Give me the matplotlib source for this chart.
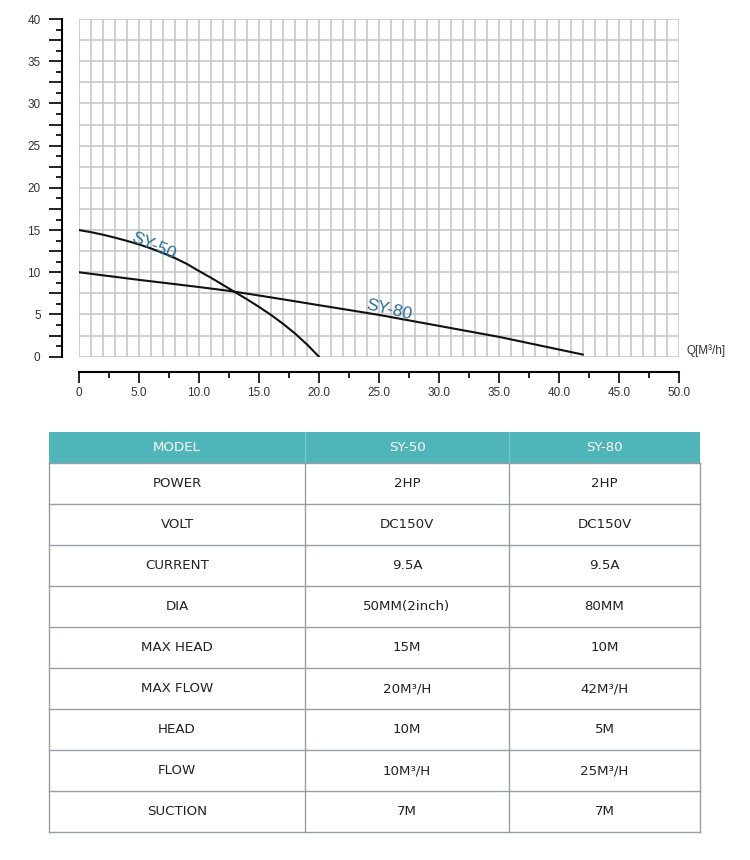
import numpy as np
import matplotlib
matplotlib.use("Agg")
import matplotlib.pyplot as plt
from matplotlib.ticker import MultipleLocator, FuncFormatter
from matplotlib.patches import Rectangle

plt.rcParams["font.family"] = ["Liberation Sans", "DejaVu Sans"]

# ---------------- data ----------------
sy50_q = [0, 1, 2, 3, 4, 5, 6, 7, 8, 9, 10, 11, 12, 13, 14, 15, 16, 17, 18, 19, 20]
sy50_h = [15.0, 14.75, 14.45, 14.1, 13.72, 13.3, 12.82, 12.28, 11.68, 10.98, 10.15,
          9.35, 8.5, 7.65, 6.8, 5.9, 4.95, 3.9, 2.75, 1.45, 0.0]
sy80_q = [0, 2.5, 5, 7.5, 10, 12.5, 15, 17.5, 20, 22.5, 25, 27.5, 30, 32.5, 35, 37.5, 40, 42]
sy80_h = [10.0, 9.55, 9.1, 8.68, 8.25, 7.8, 7.25, 6.68, 6.1, 5.53, 4.95, 4.3, 3.65,
          3.0, 2.35, 1.6, 0.85, 0.25]

table_header = ["MODEL", "SY-50", "SY-80"]
row_labels = ["POWER", "VOLT", "CURRENT", "DIA", "MAX HEAD", "MAX FLOW", "HEAD", "FLOW", "SUCTION"]
sy50_specs = ["2HP", "DC150V", "9.5A", "50MM(2inch)", "15M", "20M³/H", "10M", "10M³/H", "7M"]
sy80_specs = ["2HP", "DC150V", "9.5A", "80MM", "10M", "42M³/H", "5M", "25M³/H", "7M"]

W, H = 750, 860
fig = plt.figure(figsize=(W / 100, H / 100), dpi=100)
fig.patch.set_facecolor("white")

# ---------------- chart ----------------
x0, x1 = 79, 679
ytop, ybot = 19, 356.7
ax = fig.add_axes([x0 / W, (H - ybot) / H, (x1 - x0) / W, (ybot - ytop) / H])
ax.set_xlim(0, 50)
ax.set_ylim(0, 40)
ax.set_facecolor("none")

grid_c = "#c3c3c3"
ax.vlines(np.arange(0, 51, 1), 0, 40, colors=grid_c, lw=1.1, zorder=1)
ax.hlines(np.arange(0, 40.1, 2.5), 0, 50, colors=grid_c, lw=1.1, zorder=1)

ax.plot(sy50_q, sy50_h, color="#111111", lw=1.5, zorder=3, solid_capstyle="round",
        solid_joinstyle="round")
ax.plot(sy80_q, sy80_h, color="#111111", lw=1.5, zorder=3, solid_capstyle="round",
        solid_joinstyle="round")

lab_c = "#2a6f99"
ax.text(6.2, 13.15, "SY-50", color=lab_c, fontsize=12.5, rotation=-23,
        ha="center", va="center", zorder=4)
ax.text(25.8, 5.5, "SY-80", color=lab_c, fontsize=12.5, rotation=-13,
        ha="center", va="center", zorder=4)
ax.text(50.6, 0.7, "Q[M³/h]", color="#333333", fontsize=8.5, ha="left", va="center",
        clip_on=False)

for s in ["top", "right"]:
    ax.spines[s].set_visible(False)
ax.spines["left"].set_position(("outward", 17 * 0.72))
ax.spines["bottom"].set_position(("outward", 15.3 * 0.72))
ax.spines["left"].set_linewidth(1.5)
ax.spines["bottom"].set_linewidth(1.5)

ax.xaxis.set_major_locator(MultipleLocator(5))
ax.xaxis.set_minor_locator(MultipleLocator(2.5))
ax.yaxis.set_major_locator(MultipleLocator(2.5))
ax.yaxis.set_minor_locator(MultipleLocator(1.25))
ax.xaxis.set_major_formatter(FuncFormatter(lambda v, p: "0" if abs(v) < 1e-9 else f"{v:.1f}"))
ax.yaxis.set_major_formatter(FuncFormatter(lambda v, p: f"{v:.0f}" if abs(v % 5) < 1e-9 else ""))
ax.tick_params(axis="x", which="major", direction="out", length=8, width=1.2,
               labelsize=8.5, labelcolor="#333333", pad=3)
ax.tick_params(axis="x", which="minor", direction="out", length=4.5, width=1.2)
ax.tick_params(axis="y", which="major", direction="out", length=9.4, width=1.2,
               labelsize=8.5, labelcolor="#333333", pad=6)
ax.tick_params(axis="y", which="minor", direction="out", length=4.5, width=1.2)

# ---------------- table ----------------
tab = fig.add_axes([0, 0, 1, 1])
tab.set_xlim(0, W)
tab.set_ylim(H, 0)
tab.axis("off")

cols = [49, 305, 509, 700]
head_top, head_bot = 432, 463
row_h = 41
n_rows = len(row_labels)
bottom = head_bot + row_h * n_rows

border_c = "#959fa5"
tab.add_patch(Rectangle((cols[0], head_top), cols[-1] - cols[0], head_bot - head_top,
                        facecolor="#4fb5b9", edgecolor="none", zorder=1))
for c in cols[1:-1]:
    tab.plot([c, c], [head_top, head_bot], color="#79c5c8", lw=1.0, zorder=2)
    tab.plot([c, c], [head_bot, bottom], color=border_c, lw=1.0, zorder=2)
for c in (cols[0], cols[-1]):
    tab.plot([c, c], [head_bot, bottom], color=border_c, lw=1.0, zorder=2)
for i in range(n_rows + 1):
    y = head_bot + row_h * i
    tab.plot([cols[0], cols[-1]], [y, y], color=border_c, lw=1.0, zorder=2)

centers = [(cols[i] + cols[i + 1]) / 2 for i in range(3)]
tfont = dict(family=["DejaVu Sans"], fontsize=9.6, ha="center", va="center")
for j, t in enumerate(table_header):
    tab.text(centers[j], (head_top + head_bot) / 2, t, color="white", **tfont)
for i in range(n_rows):
    yc = head_bot + row_h * (i + 0.5)
    for j, t in enumerate([row_labels[i], sy50_specs[i], sy80_specs[i]]):
        tab.text(centers[j], yc, t, color="#222222", **tfont)

fig.savefig("out.png", dpi=100, facecolor="white")
